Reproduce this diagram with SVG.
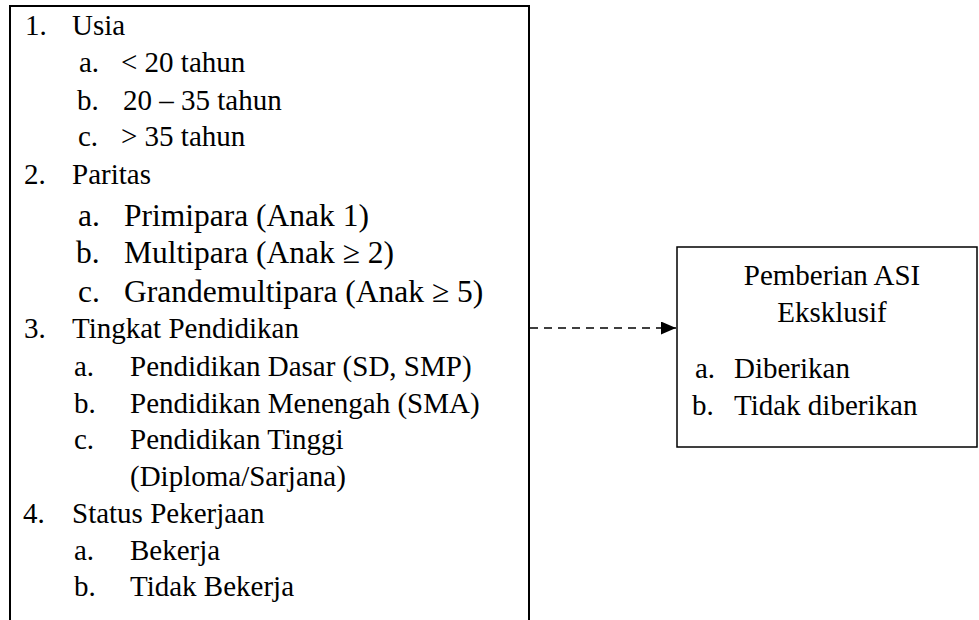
<svg xmlns="http://www.w3.org/2000/svg" width="979" height="620" viewBox="0 0 979 620">
<style>
text{font-family:"Liberation Serif","Times New Roman",serif;fill:#000;font-size:29px}
.big{font-size:31.5px}
.box{fill:#fff;stroke:#000}
</style>
<defs>
<marker id="arr" markerWidth="15" markerHeight="13" refX="15" refY="6.5" orient="auto" markerUnits="userSpaceOnUse">
<path d="M0,0 L15,6.5 L0,13 Z" fill="#000"/>
</marker>
</defs>
<rect width="979" height="620" fill="#fff"/>
<g id="factors">
<rect class="box" x="10" y="6" width="519" height="640" stroke-width="2"/>
<text x="25" y="35">1.</text><text x="72" y="35">Usia</text>
<text x="79" y="72">a.</text><text x="121" y="72">&lt; 20 tahun</text>
<text x="77" y="110">b.</text><text x="123" y="110">20 – 35 tahun</text>
<text x="78" y="146">c.</text><text x="121" y="146">&gt; 35 tahun</text>
<text x="24" y="184">2.</text><text x="72" y="184">Paritas</text>
<text class="big" x="78" y="226">a.</text><text class="big" x="124" y="226">Primipara (Anak 1)</text>
<text class="big" x="76" y="263">b.</text><text class="big" x="124" y="263">Multipara (Anak ≥ 2)</text>
<text class="big" x="78" y="302">c.</text><text class="big" x="124" y="302">Grandemultipara (Anak ≥ 5)</text>
<text x="24" y="338">3.</text><text x="72" y="338">Tingkat Pendidikan</text>
<text x="74" y="376">a.</text><text x="130" y="376">Pendidikan Dasar (SD, SMP)</text>
<text x="74" y="413">b.</text><text x="130" y="413">Pendidikan Menengah (SMA)</text>
<text x="74" y="449">c.</text><text x="130" y="449">Pendidikan Tinggi</text>
<text x="130" y="486">(Diploma/Sarjana)</text>
<text x="23" y="523">4.</text><text x="72" y="523">Status Pekerjaan</text>
<text x="74" y="560">a.</text><text x="130" y="560">Bekerja</text>
<text x="74" y="596">b.</text><text x="130" y="596">Tidak Bekerja</text>
</g>
<g id="outcome">
<rect class="box" x="677" y="247" width="300" height="200" stroke="#222" stroke-width="1.5"/>
<text x="832" y="285" text-anchor="middle">Pemberian ASI</text>
<text x="832" y="322" text-anchor="middle">Eksklusif</text>
<text x="695" y="378">a.</text><text x="734" y="378">Diberikan</text>
<text x="692" y="415">b.</text><text x="734" y="415">Tidak diberikan</text>
</g>
<g id="connectors">
<line x1="530" y1="328" x2="676" y2="328" stroke="#000" stroke-width="1.3" stroke-dasharray="8 6" marker-end="url(#arr)"/>
</g>
</svg>
